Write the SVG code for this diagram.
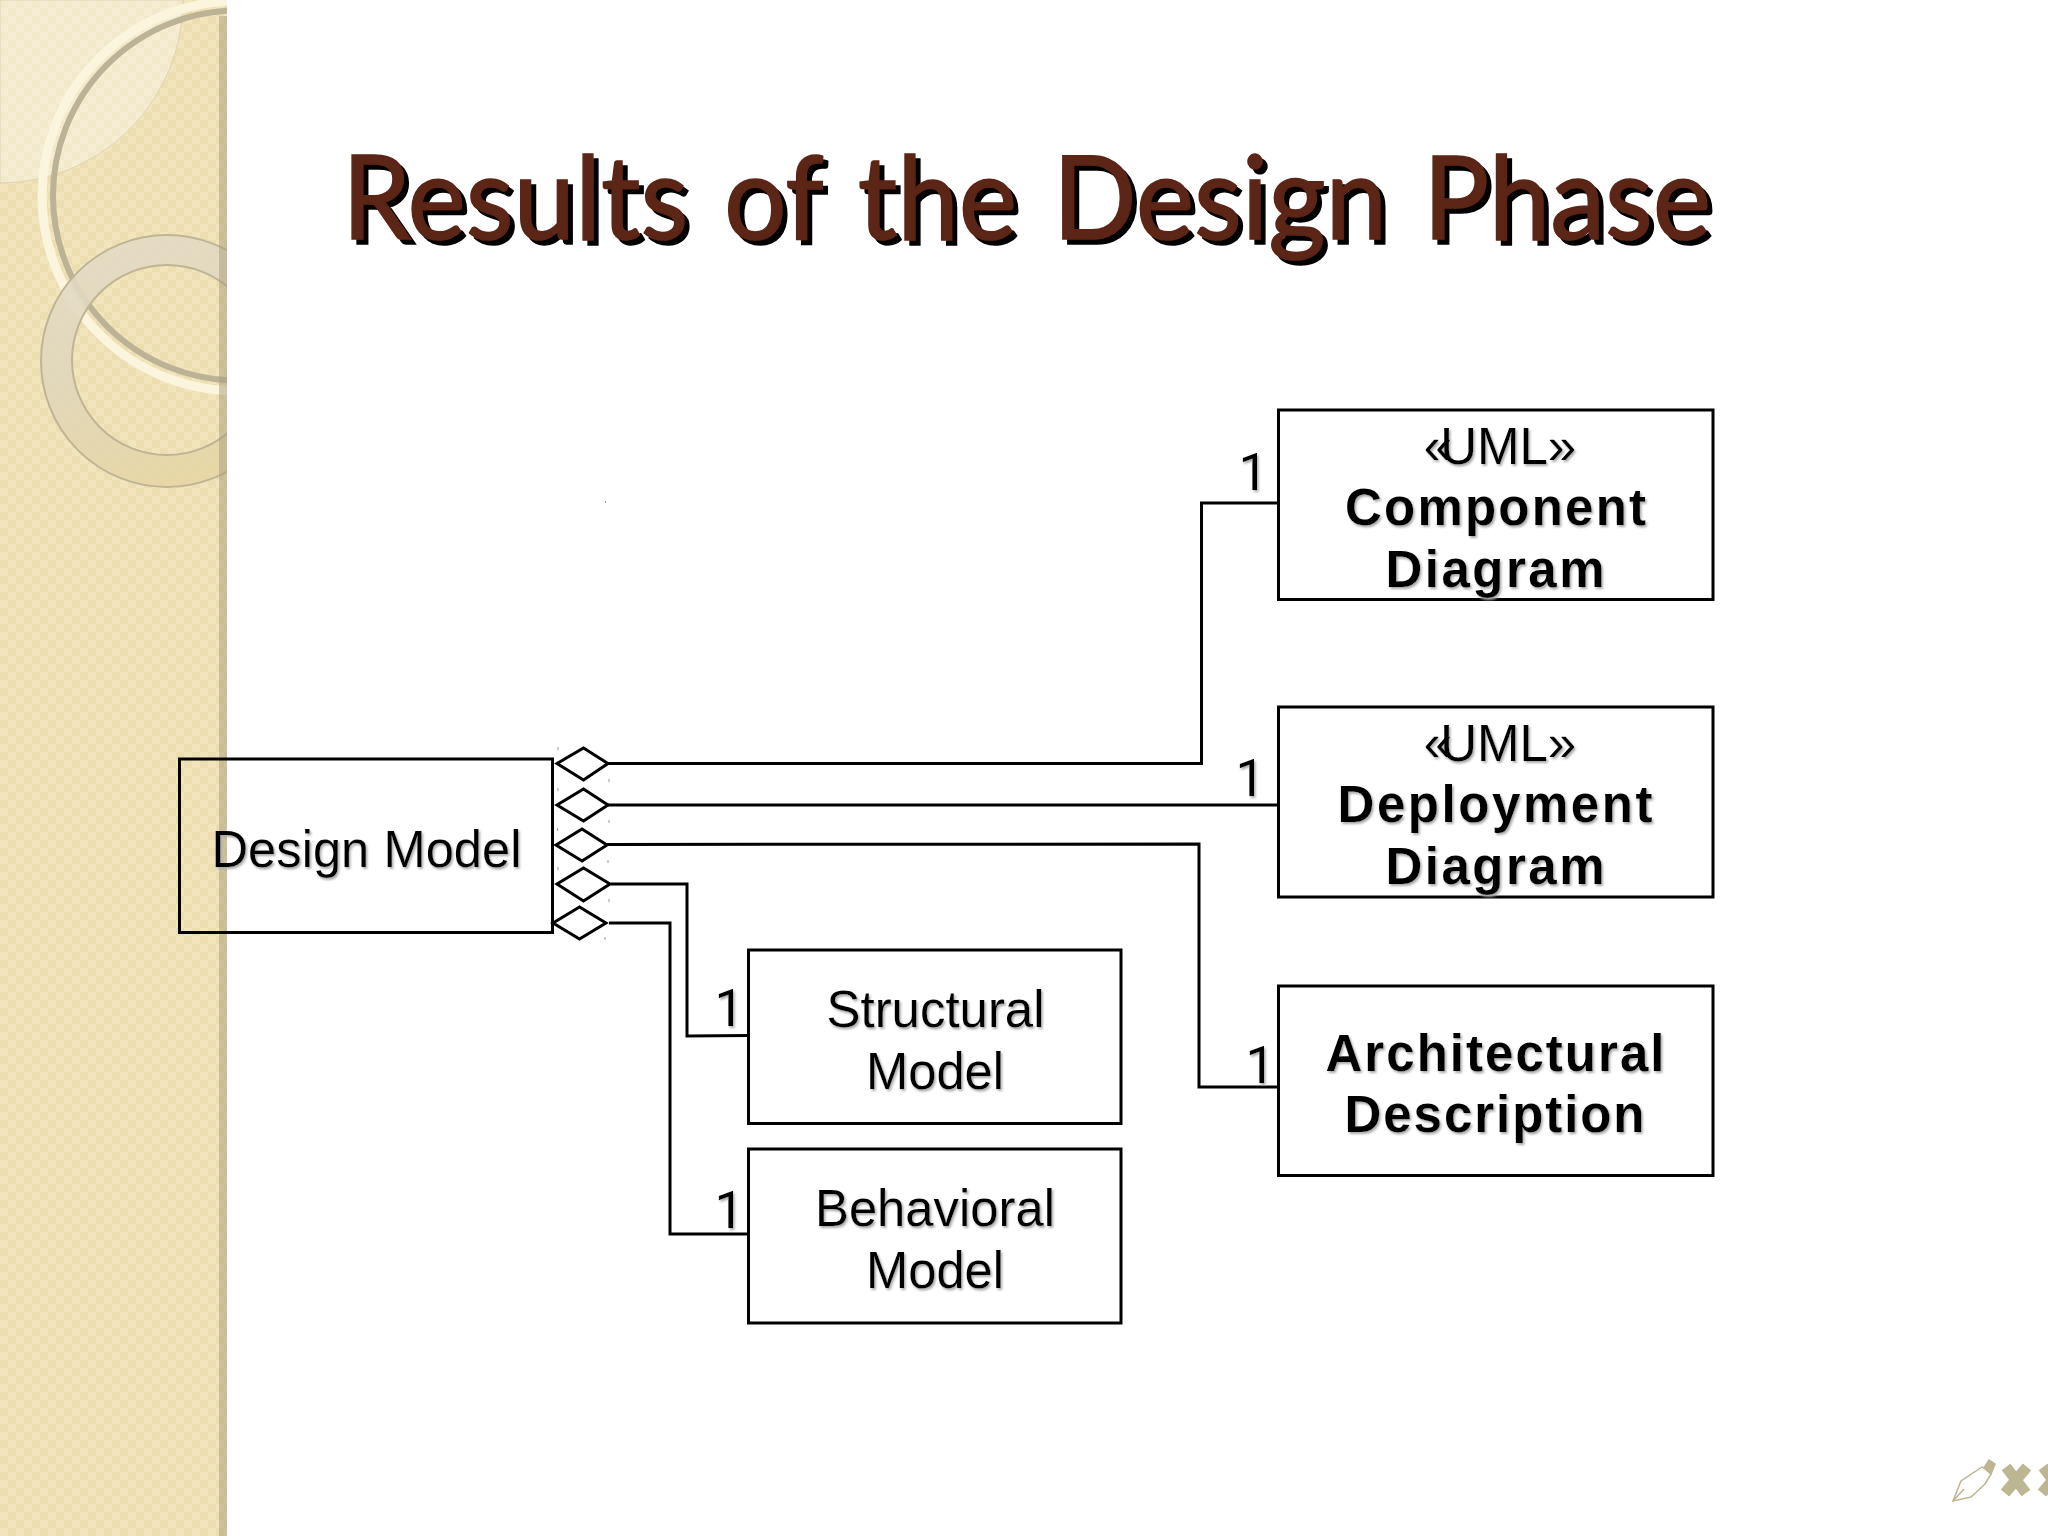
<svg xmlns="http://www.w3.org/2000/svg" width="2048" height="1536" viewBox="0 0 2048 1536">
<style>
.box{fill:#fff;stroke:#000;stroke-width:3}
.clear{fill:none}
.dia{fill:#fff;stroke:#000;stroke-width:3}
.con{fill:none;stroke:#000;stroke-width:3}
.t{font-family:"Liberation Sans",Arial,sans-serif;font-size:52px;fill:#000;text-anchor:middle;filter:url(#ts)}
.b{font-weight:bold;font-size:51px}
.u{font-size:51px}
.m{font-family:Roboto,"Liberation Sans",sans-serif;font-size:52px}
.title{font-family:Lato,"Open Sans",sans-serif;font-size:116px;word-spacing:8px;fill:#5c2516;stroke:#5c2516;stroke-width:1.500;filter:url(#tt)}
.speck{fill:#999}
.ic{fill:none;stroke:#bdb692}
</style>
<defs>
<pattern id="chk" width="16" height="16" patternUnits="userSpaceOnUse">
<rect width="16" height="16" fill="#f2e4bb"/>
<rect width="8" height="8" fill="#ecdeb0"/>
<rect x="8" y="8" width="8" height="8" fill="#ecdeb0"/>
</pattern>
<linearGradient id="ring" x1="0.2" y1="0" x2="0.5" y2="1">
<stop offset="0" stop-color="#e4dbc6"/><stop offset="0.5" stop-color="#e0d6bb"/><stop offset="1" stop-color="#e6d6a4"/>
</linearGradient>
<clipPath id="panel"><rect width="227" height="1536"/></clipPath>
<filter id="ts" x="-5%" y="-10%" width="110%" height="125%"><feDropShadow dx="1.500" dy="2" stdDeviation="0.800" flood-color="#aaa"/></filter>
<filter id="tt" x="-5%" y="-5%" width="110%" height="115%"><feDropShadow dx="5" dy="5" stdDeviation="0" flood-color="#000"/></filter>
</defs>
<rect width="2048" height="1536" fill="#fff"/>
<g id="sidebar" clip-path="url(#panel)">
<rect width="227" height="1536" fill="url(#chk)"/>
<path d="M0 0H183A183 183 0 0 1 0 183Z" fill="#fff" fill-opacity="0.34" stroke="#d8cfae" stroke-width="0.800"/>
<circle cx="237" cy="196" r="195" fill="none" stroke="#fbf5de" stroke-width="9"/>
<circle cx="238" cy="195.500" r="185" fill="none" stroke="#bcb296" stroke-width="6"/>
<path fill-rule="evenodd" d="M41 361A126 126 0 1 1 293 361A126 126 0 1 1 41 361ZM72 360A95 95 0 1 0 262 360A95 95 0 1 0 72 360Z" fill="url(#ring)" fill-opacity="0.88" stroke="#bfb596" stroke-width="2"/>
<rect x="219" y="16" width="8" height="1520" fill="#a89c7c" fill-opacity="0.5"/>
</g>
<g id="title">
<text class="title" y="239" x="342" textLength="1369" lengthAdjust="spacingAndGlyphs">Results of the Design Phase</text>
</g>
<g id="connectors">
<path class="con" d="M608 763.500H1201.500V503H1278"/>
<path class="con" d="M608 805H1278"/>
<path class="con" d="M607 844.500L1199 844V1087H1278"/>
<path class="con" d="M611 884H687V1036L748 1035.500"/>
<path class="con" d="M609 923H670V1234H748"/>
<polygon class="dia" points="557,763.500 583.500,748 608,763.500 583.500,780"/>
<polygon class="dia" points="557,805 583.500,789 608,805 583.500,821"/>
<polygon class="dia" points="556,845 582,829 607,845 582,861"/>
<polygon class="dia" points="557,884 583.500,868 610,884 583.500,901"/>
<polygon class="dia" points="553,923 579.500,907 606,923 579.500,939"/>
<g class="speck">
<rect x="557.500" y="747" width="1" height="3"/><rect x="608.500" y="779" width="1" height="3"/>
<rect x="557.500" y="788" width="1" height="3"/><rect x="608.500" y="820" width="1" height="3"/>
<rect x="557" y="828" width="1" height="3"/><rect x="607.500" y="860" width="1" height="3"/>
<rect x="557.500" y="867" width="1" height="3"/><rect x="608.500" y="899" width="1" height="3"/>
<rect x="604.500" y="937" width="1" height="3"/><rect x="605" y="501" width="1" height="2"/>
</g>
</g>
<g id="design-model"><rect class="box clear" x="179.500" y="759" width="373" height="173.500"/>
<text class="t" x="366.500" y="867" textLength="310" lengthAdjust="spacingAndGlyphs">Design Model</text></g>
<g id="component-diagram"><rect class="box" x="1278.500" y="410" width="434.500" height="189.500"/>
<text class="t u" x="1500" y="464">«<tspan dx="-12">UML</tspan>»</text>
<text class="t b" x="1495.500" y="525" textLength="301">Component</text>
<text class="t b" x="1495" y="587" textLength="219">Diagram</text></g>
<g id="deployment-diagram"><rect class="box" x="1278.500" y="707" width="434.500" height="190"/>
<text class="t u" x="1500" y="761">«<tspan dx="-12">UML</tspan>»</text>
<text class="t b" x="1495" y="822" textLength="315">Deployment</text>
<text class="t b" x="1495" y="884" textLength="219">Diagram</text></g>
<g id="architectural-description"><rect class="box" x="1278.500" y="986" width="434.500" height="189.500"/>
<text class="t b" x="1495" y="1071" textLength="339">Architectural</text>
<text class="t b" x="1494.500" y="1132" textLength="300">Description</text></g>
<g id="structural-model"><rect class="box" x="748.500" y="950" width="372.500" height="173.500"/>
<text class="t" x="935.500" y="1027" textLength="218" lengthAdjust="spacingAndGlyphs">Structural</text>
<text class="t" x="935" y="1089" textLength="138" lengthAdjust="spacingAndGlyphs">Model</text></g>
<g id="behavioral-model"><rect class="box" x="748.500" y="1149" width="372.500" height="174"/>
<text class="t" x="935" y="1226" textLength="240" lengthAdjust="spacingAndGlyphs">Behavioral</text>
<text class="t" x="935" y="1288" textLength="138" lengthAdjust="spacingAndGlyphs">Model</text></g>
<g id="multiplicities">
<text class="t m" x="1253" y="490">1</text>
<text class="t m" x="1250" y="796">1</text>
<text class="t m" x="1260" y="1083">1</text>
<text class="t m" x="729" y="1026">1</text>
<text class="t m" x="729" y="1228">1</text>
</g>
<g id="nav-icons">
<path d="M1953 1501L1961 1481L1982 1467L1987 1469L1991 1474L1985 1484L1971 1497Z" fill="#fff" stroke="#bdb692" stroke-width="1.500"/>
<path d="M1953 1501L1964 1489M1984 1468L1989 1460L1995 1464L1991 1474Z" fill="#bdb692" stroke="#bdb692" stroke-width="1.500"/>
<path class="ic" d="M2006 1467L2026 1493M2027 1467L2005 1493" stroke-width="11"/>
<path class="ic" d="M2043 1467L2063 1493M2064 1467L2042 1493" stroke-width="11"/>
</g>
</svg>
